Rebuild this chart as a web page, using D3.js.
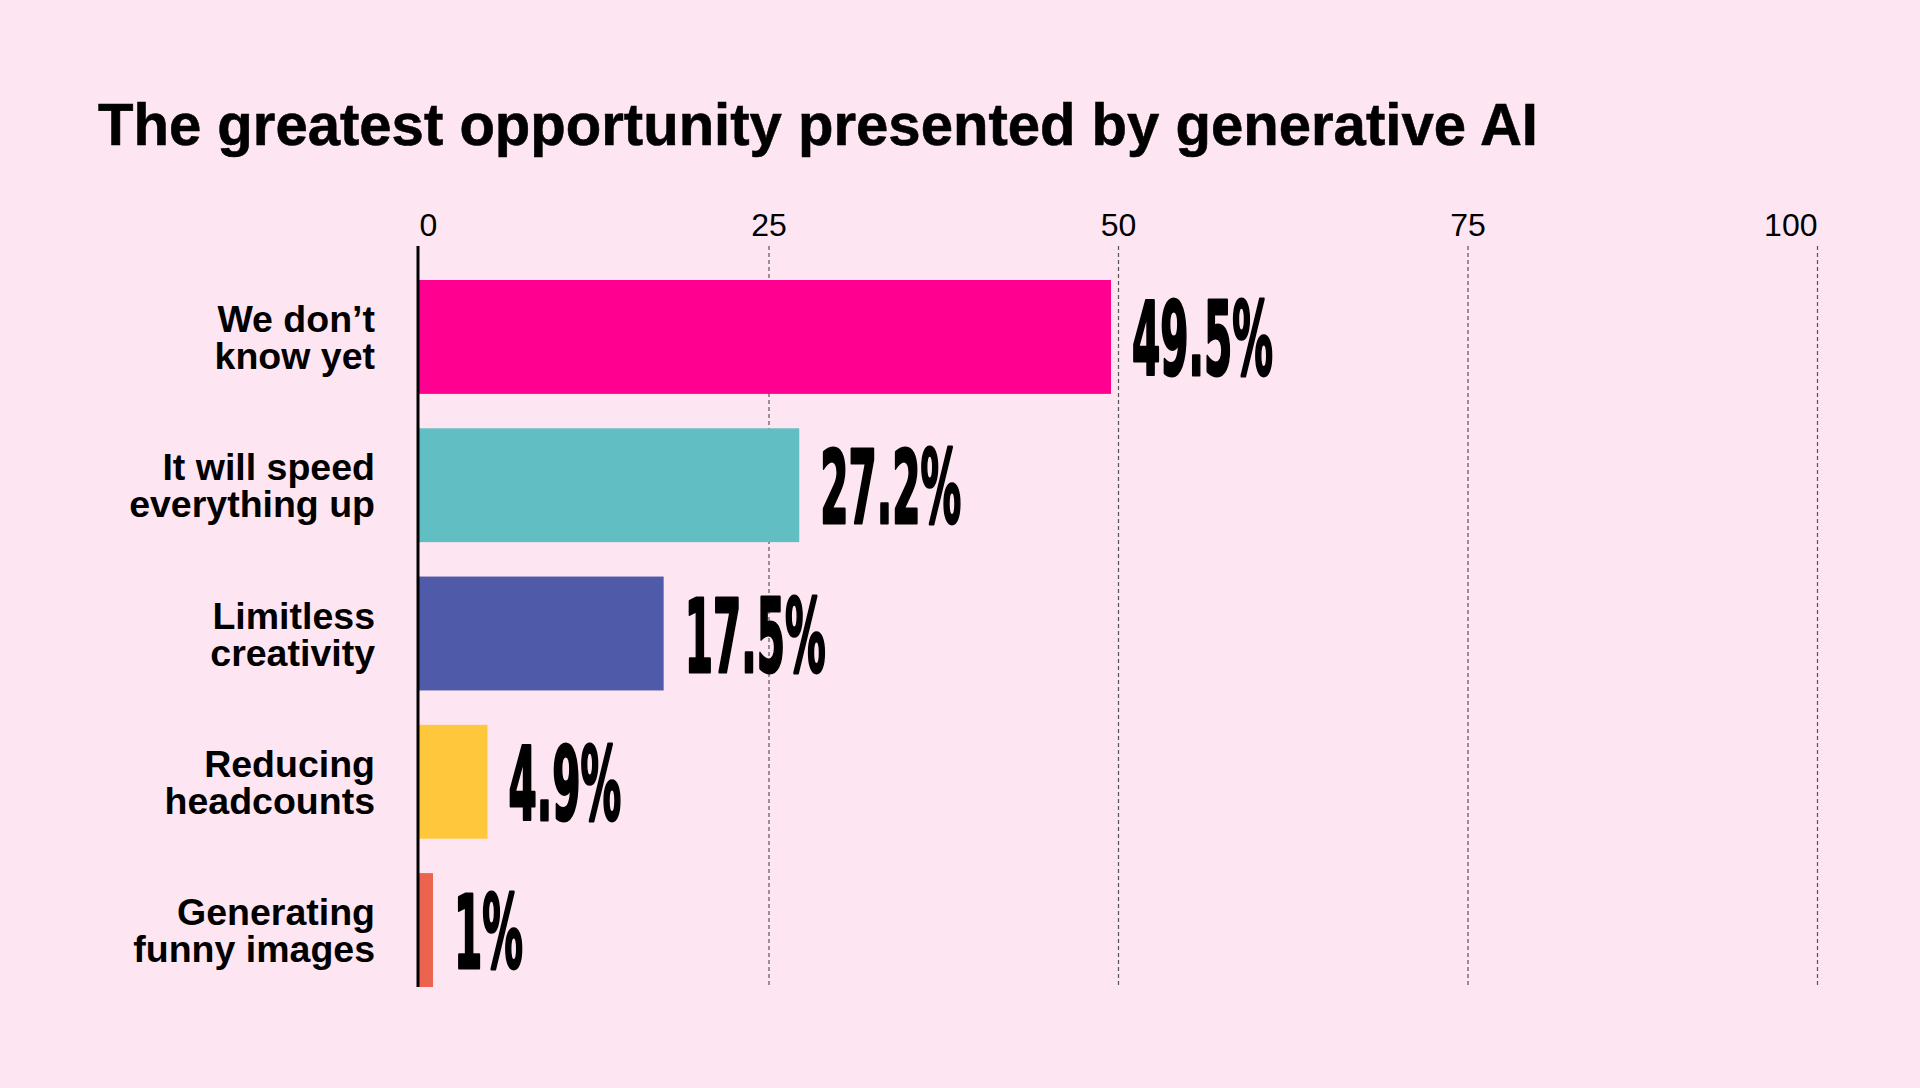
<!DOCTYPE html>
<html>
<head>
<meta charset="utf-8">
<script src="https://cdn.jsdelivr.net/npm/d3@7"></script>
<style>
  html, body { margin: 0; padding: 0; background: #FEE5F2; }
  svg { display: block; }
</style>
</head>
<body>
<svg id="chart" width="1920" height="1088"></svg>
<script>
// ---- data ----
const title = "The greatest opportunity presented by generative AI";
const categories = ["We don’t know yet", "It will speed everything up", "Limitless creativity", "Reducing headcounts", "Generating funny images"];
const categoryLines = [["We don’t", "know yet"], ["It will speed", "everything up"], ["Limitless", "creativity"], ["Reducing", "headcounts"], ["Generating", "funny images"]];
const values = [49.5, 27.2, 17.5, 4.9, 1];
const valueLabels = ["49.5%", "27.2%", "17.5%", "4.9%", "1%"];
const colors = ["#FF0090", "#61BEC2", "#4F5BA8", "#FFC83C", "#EC6350"];
const ticks = [0, 25, 50, 75, 100];

// ---- layout ----
const W = 1920, H = 1088;
const svg = d3.select("#chart");
svg.append("rect").attr("width", W).attr("height", H).attr("fill", "#FEE5F2");

const x = d3.scaleLinear().domain([0, 100]).range([419, 1817]);
const y = d3.scaleBand().domain(categories).range([280, 987]).paddingInner(0.232).paddingOuter(0);
const axisTop = 246, axisBottom = 987;

// title
const t = svg.append("text")
  .attr("x", 98).attr("y", 145)
  .attr("font-family", "'Liberation Sans', Arial, sans-serif")
  .attr("font-weight", 700)
  .attr("font-size", 60)
  .attr("fill", "#000")
  .attr("stroke", "#000")
  .attr("stroke-width", 0.6)
  .text(title);
const tw = t.node().getComputedTextLength();
if (Math.abs(tw - 1440) > 4) t.attr("textLength", 1440).attr("lengthAdjust", "spacingAndGlyphs");

// axis with grid
const axisG = svg.append("g")
  .attr("transform", `translate(0,${axisTop})`)
  .call(d3.axisTop(x).tickValues(ticks).tickSizeInner(-(axisBottom - axisTop)).tickSizeOuter(0).tickPadding(10));
axisG.select(".domain").remove();
axisG.selectAll(".tick line")
  .attr("stroke", "#555")
  .attr("stroke-width", 1.2)
  .attr("stroke-dasharray", "4,3")
  .filter(d => d === 0).remove();
axisG.selectAll(".tick text")
  .attr("font-family", "'Liberation Sans', Arial, sans-serif")
  .attr("font-size", 32)
  .attr("fill", "#000")
  .attr("text-anchor", d => d === 0 ? "start" : (d === 100 ? "end" : "middle"));

// bars
svg.append("g").selectAll("rect")
  .data(values)
  .join("rect")
  .attr("x", x(0))
  .attr("y", (d, i) => y(categories[i]))
  .attr("width", d => x(d) - x(0))
  .attr("height", y.bandwidth())
  .attr("fill", (d, i) => colors[i]);

// zero axis line
svg.append("line")
  .attr("x1", x(0) - 1).attr("x2", x(0) - 1)
  .attr("y1", axisTop).attr("y2", axisBottom)
  .attr("stroke", "#000").attr("stroke-width", 3);

// category labels
const catG = svg.append("g");
categoryLines.forEach((lines, i) => {
  const cy = y(categories[i]) + y.bandwidth() / 2;
  const txt = catG.append("text")
    .attr("text-anchor", "end")
    .attr("font-family", "'Liberation Sans', Arial, sans-serif")
    .attr("font-weight", 700)
    .attr("font-size", 37.5)
    .attr("fill", "#000");
  lines.forEach((ln, j) => {
    txt.append("tspan").attr("x", 375).attr("y", cy - 5 + j * 37).text(ln);
  });
});

// value labels (heavy condensed)
const valG = svg.append("g");
const labels = valueLabels.map((lab, i) => {
  const cy = y(categories[i]) + y.bandwidth() / 2;
  const g = valG.append("g").attr("transform", `translate(${x(values[i]) + 21},${cy + 38})`);
  const tx = g.append("text")
    .attr("font-family", "'Liberation Sans Narrow', 'DejaVu Sans Condensed', 'Liberation Sans', sans-serif")
    .attr("font-weight", 700)
    .attr("font-size", 101)
    .attr("fill", "#000")
    .attr("stroke", "#000")
    .attr("stroke-width", 3)
    .attr("stroke-linejoin", "round")
    .text(lab);
  return { g, tx };
});
const w0 = labels[0].tx.node().getComputedTextLength();
const k = 141 / w0;
labels.forEach(({ g, tx }) => tx.attr("transform", `scale(${k},1)`));
</script>
</body>
</html>
